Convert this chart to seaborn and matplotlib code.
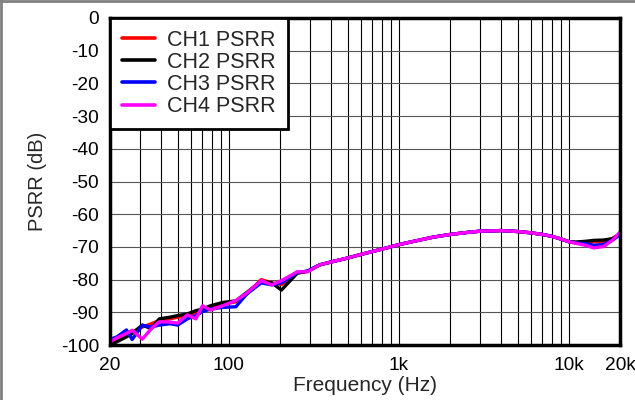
import matplotlib
matplotlib.use("Agg")
import matplotlib.pyplot as plt
import matplotlib.ticker as mticker
from matplotlib.lines import Line2D
import seaborn as sns
import pandas as pd

freq = [20, 22, 25, 27, 31, 35, 39, 45, 50, 57, 64, 70, 78, 92, 110, 127, 155, 179, 204,
        253, 291, 342, 400, 500, 600, 700, 850, 1000, 1300, 1600, 2000, 2500, 3000, 4000,
        5000, 6000, 7000, 8000, 9000, 10000, 11000, 12500, 14000, 16000, 18000, 20000]

tail = [-74.6, -73.4, -72.3, -71.4, -70.3, -69.3, -68.0, -67.0, -66.2, -65.6, -65.2,
        -65.0, -65.3, -65.7, -66.2, -66.8, -67.6, -68.4]

ch1 = [-99.5, -98.5, -97.0, -96.0, -94.5, -93.5, -92.5, -92.0, -91.5, -91.0, -90.0, -89.5,
       -88.5, -87.5, -86.8, -84.5, -80.0, -81.0, -81.5, -78.0, -77.5, -75.5] + tail + \
      [-68.7, -68.6, -68.4, -68.5, -67.5, -66.0]
ch2 = [-100.0, -99.0, -97.5, -96.5, -93.9, -95.0, -92.0, -91.5, -91.0, -90.5, -89.5, -89.0,
       -88.0, -87.0, -86.5, -84.0, -80.5, -81.0, -83.2, -78.0, -77.4, -75.5] + tail + \
      [-68.5, -68.3, -68.0, -67.9, -67.5, -66.0]
ch3 = [-98.3, -97.5, -95.4, -98.3, -94.0, -94.5, -93.9, -93.5, -93.9, -92.0, -91.0, -89.8,
       -89.0, -88.5, -88.3, -84.5, -81.0, -81.6, -81.0, -77.8, -77.4, -75.5] + tail + \
      [-68.8, -69.0, -69.5, -69.3, -68.0, -66.3]
ch4 = [-99.0, -97.8, -96.5, -95.5, -98.2, -95.0, -92.9, -93.0, -93.3, -90.8, -92.0, -88.0,
       -89.3, -88.0, -86.4, -84.2, -80.3, -81.6, -80.3, -77.6, -77.6, -75.5] + tail + \
      [-68.9, -69.5, -70.3, -69.9, -68.0, -65.5]

labels = ["CH1 PSRR", "CH2 PSRR", "CH3 PSRR", "CH4 PSRR"]
colors = ["#ff0000", "#000000", "#0000ff", "#ff00ff"]
xticks = [20, 100, 1000, 10000, 20000]
xticklabels = ["20", "100", "1k", "10k", "20k"]
yticks = list(range(-100, 1, 10))

rows = []
for lab, vals in zip(labels, [ch1, ch2, ch3, ch4]):
    for f, v in zip(freq, vals):
        rows.append({"Frequency": f, "PSRR": v, "Channel": lab})
df = pd.DataFrame(rows)

sns.set_style("white")
plt.rcParams["font.family"] = ["Liberation Sans", "DejaVu Sans"]

fig = plt.figure(figsize=(6.35, 4.0), dpi=100)
ax = fig.add_axes([110/635, 1-345/400, 510/635, 327/400])

sns.lineplot(data=df, x="Frequency", y="PSRR", hue="Channel", hue_order=labels,
             palette=colors, linewidth=2.4, ax=ax, legend=True, estimator=None, sort=False)

ax.set_xscale("log")
ax.set_xlim(20, 20000)
ax.set_ylim(-100, 0)
ax.xaxis.set_major_locator(mticker.FixedLocator(xticks))
ax.xaxis.set_major_formatter(mticker.FixedFormatter(xticklabels))
ax.xaxis.set_minor_locator(mticker.LogLocator(base=10, subs=range(2, 10)))
ax.xaxis.set_minor_formatter(mticker.NullFormatter())
ax.set_yticks(yticks)
ax.set_yticklabels([str(t) for t in yticks])

ax.grid(True, which="major", axis="both", color="black", linewidth=0.8)
ax.grid(True, which="minor", axis="x", color="black", linewidth=0.8)
ax.grid(True, which="major", axis="y", color="#555555", linewidth=0.8)
ax.set_axisbelow(True)
ax.tick_params(axis="both", which="both", length=0, labelsize=13.8, colors="black")
ax.tick_params(axis="x", pad=9)
ax.tick_params(axis="y", pad=8)

for s in ax.spines.values():
    s.set_visible(True)
    s.set_color("black")
    s.set_linewidth(2.5)

ax.set_xlabel("Frequency (Hz)", fontsize=15, labelpad=1)
ax.set_ylabel("PSRR (dB)", fontsize=14.5, labelpad=10)

leg = ax.legend(loc="upper left", fontsize=15.5, frameon=True, fancybox=False,
                borderaxespad=0, handlelength=1.55, handletextpad=0.56,
                labelspacing=0.05, borderpad=0.55, framealpha=1)
leg.get_frame().set_edgecolor("black")
leg.get_frame().set_linewidth(2.0)
for h in leg.get_lines():
    h.set_linewidth(2.6)

fig.add_artist(Line2D([0, 1], [0.997, 0.997], transform=fig.transFigure, color="#808080", linewidth=2))
fig.add_artist(Line2D([0.0015, 0.0015], [0, 1], transform=fig.transFigure, color="#808080", linewidth=2))

fig.savefig("out.png", dpi=100)
